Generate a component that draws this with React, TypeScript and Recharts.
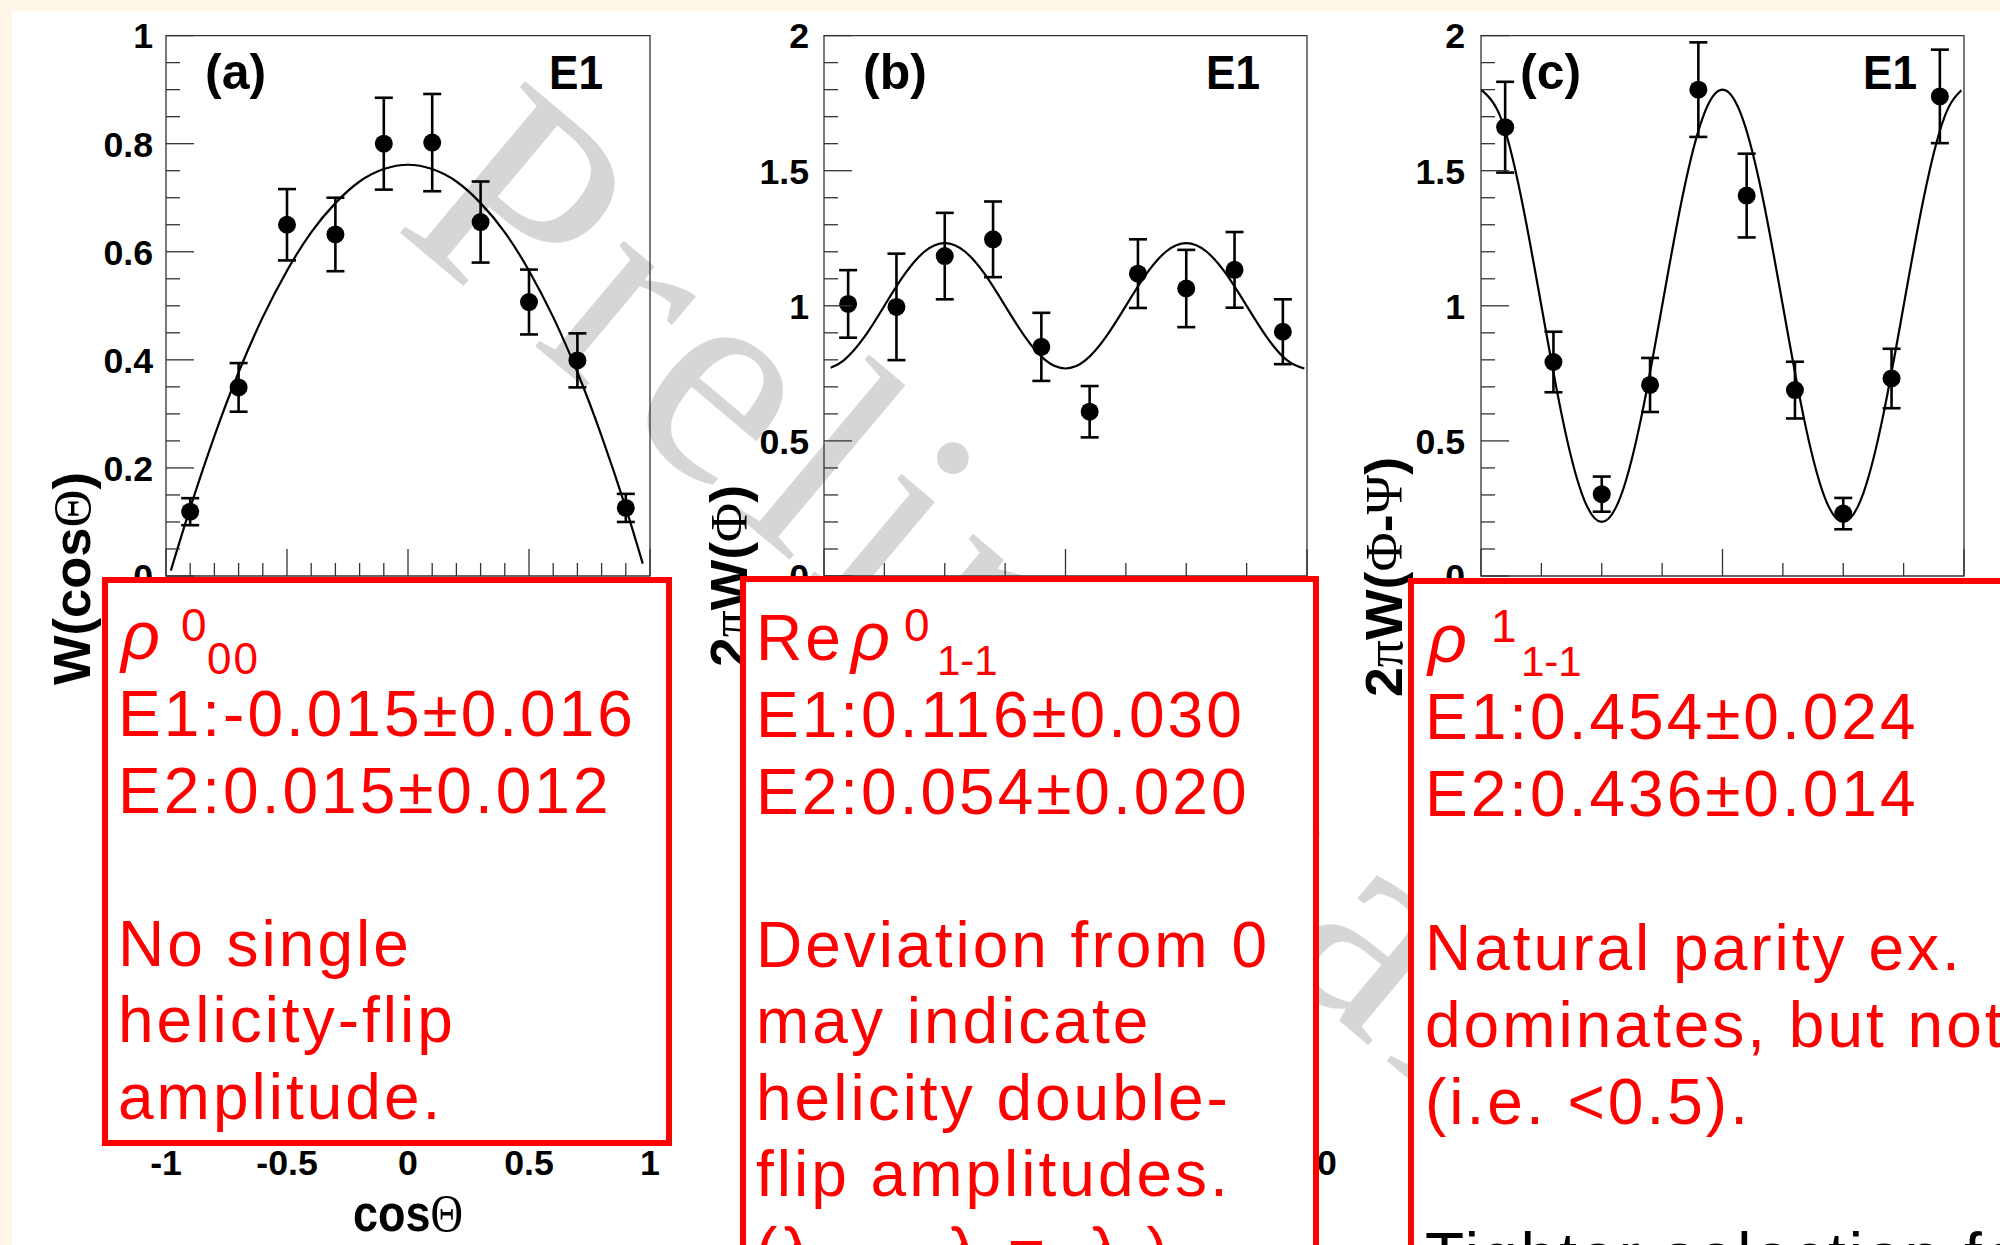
import React from 'react';
import { ComposedChart, Line, Scatter, XAxis, YAxis, ErrorBar, ReferenceArea, Label } from 'recharts';

// ---------- Panel (a): W(cosTheta) ----------
const cosBins = [-0.9, -0.7, -0.5, -0.3, -0.1, 0.1, 0.3, 0.5, 0.7, 0.9];
const wCos = [0.119, 0.349, 0.65, 0.632, 0.8, 0.802, 0.655, 0.507, 0.399, 0.126];
const wCosErr = [0.025, 0.045, 0.066, 0.068, 0.085, 0.09, 0.075, 0.06, 0.05, 0.026];
const cosFitX = [-0.98, -0.9, -0.8, -0.7, -0.6, -0.5, -0.4, -0.3, -0.2, -0.1, 0, 0.1, 0.2, 0.3, 0.4, 0.5, 0.6, 0.7, 0.8, 0.9, 0.97];
const cosFitY = [0.01, 0.126, 0.259, 0.377, 0.479, 0.565, 0.636, 0.69, 0.73, 0.753, 0.761, 0.753, 0.73, 0.69, 0.636, 0.565, 0.479, 0.377, 0.259, 0.126, 0.023];

// ---------- Panel (b): 2piW(Phi) ----------
const phiBins = [18, 54, 90, 126, 162, 198, 234, 270, 306, 342];
const wPhi = [1.007, 0.996, 1.184, 1.246, 0.848, 0.608, 1.119, 1.064, 1.133, 0.904];
const wPhiErr = [0.125, 0.197, 0.16, 0.14, 0.126, 0.095, 0.127, 0.143, 0.14, 0.12];
const phiFitX = [5, 15, 30, 45, 60, 75, 90, 105, 120, 135, 150, 165, 180, 195, 210, 225, 240, 255, 270, 285, 300, 315, 330, 345, 358];
const phiFitY = [0.771, 0.799, 0.884, 1.0, 1.116, 1.201, 1.232, 1.201, 1.116, 1.0, 0.884, 0.799, 0.768, 0.799, 0.884, 1.0, 1.116, 1.201, 1.232, 1.201, 1.116, 1.0, 0.884, 0.799, 0.768];

// ---------- Panel (c): 2piW(Phi-Psi) ----------
const psiBins = [18, 54, 90, 126, 162, 198, 234, 270, 306, 342];
const wPsi = [1.661, 0.792, 0.303, 0.707, 1.8, 1.408, 0.688, 0.231, 0.731, 1.775];
const wPsiErr = [0.168, 0.112, 0.065, 0.1, 0.175, 0.155, 0.105, 0.058, 0.11, 0.173];
const psiFitX = [0, 15, 30, 45, 60, 75, 90, 105, 120, 135, 150, 165, 180, 195, 210, 225, 240, 255, 270, 285, 300, 315, 330, 345, 358];
const psiFitY = [1.8, 1.693, 1.4, 1.0, 0.6, 0.307, 0.2, 0.307, 0.6, 1.0, 1.4, 1.693, 1.8, 1.693, 1.4, 1.0, 0.6, 0.307, 0.2, 0.307, 0.6, 1.0, 1.4, 1.693, 1.798];

// ---------- Axis ticks ----------
const cosTicks = [-1, -0.9, -0.8, -0.7, -0.6, -0.5, -0.4, -0.3, -0.2, -0.1, 0, 0.1, 0.2, 0.3, 0.4, 0.5, 0.6, 0.7, 0.8, 0.9, 1];
const cosMajor = [-1, -0.5, 0, 0.5, 1];
const wTicksA = [0, 0.05, 0.1, 0.15, 0.2, 0.25, 0.3, 0.35, 0.4, 0.45, 0.5, 0.55, 0.6, 0.65, 0.7, 0.75, 0.8, 0.85, 0.9, 0.95, 1];
const wMajorA = [0, 0.2, 0.4, 0.6, 0.8, 1];
const angTicks = [0, 45, 90, 135, 180, 225, 270, 315, 360];
const angMajor = [0, 180, 360];
const wTicksB = [0, 0.1, 0.2, 0.3, 0.4, 0.5, 0.6, 0.7, 0.8, 0.9, 1, 1.1, 1.2, 1.3, 1.4, 1.5, 1.6, 1.7, 1.8, 1.9, 2];
const wMajorB = [0, 0.5, 1, 1.5, 2];

const SANS = '"Liberation Sans", Arial, Helvetica, sans-serif';
const SERIF = '"Liberation Serif", "Times New Roman", serif';
const AXIS_COLOR = '#333333';
const RED = '#ff0000';

const TOP_Y = 35.6;
const FRAME_BOTTOM = 576;
const CHART_H = 740;
const Y_AXIS_W = 60;
const X_AXIS_H = 10;

const isIn = (list: number[], v: number) => list.some((m) => Math.abs(m - v) < 1e-9);
const zipPts = (xs: number[], ys: number[], es: number[]) => xs.map((x, i) => ({ x, y: ys[i], err: es[i] }));
const zipFit = (xs: number[], ys: number[]) => xs.map((x, i) => ({ x, y: ys[i] }));

const makeYTick = (major: number[], gap: number) => (props: any) => {
  const { x, y, payload } = props;
  const v = payload.value;
  const big = isIn(major, v);
  return (
    <g>
      <line x1={x} y1={y} x2={x + (big ? 28 : 14)} y2={y} stroke={AXIS_COLOR} strokeWidth={1.3} />
      {big ? (
        <text x={x - gap} y={y} dy="0.36em" textAnchor="end" fontFamily={SANS} fontWeight={700} fontSize={35.7} fill="#000">
          {String(v)}
        </text>
      ) : null}
    </g>
  );
};

const makeXTick = (major: number[]) => (props: any) => {
  const { x, y, payload } = props;
  const big = isIn(major, payload.value);
  return <line x1={x} y1={y} x2={x} y2={y - (big ? 27 : 13)} stroke={AXIS_COLOR} strokeWidth={1.3} />;
};

const lowerXTick = (props: any) => {
  const { x, y, payload } = props;
  return (
    <text x={x} y={y + 10} dy="0.71em" textAnchor="middle" fontFamily={SANS} fontWeight={700} fontSize={35.7} fill="#000">
      {String(payload.value)}
    </text>
  );
};

const dotShape = (p: any) => <circle cx={p.cx} cy={p.cy} r={9} fill="#000" />;

type PanelCfg = {
  left: number;
  width: number;
  plotLeft: number;
  plotRight: number;
  xDomain: [number, number];
  xTicks: number[];
  xMajor: number[];
  yDomain: [number, number];
  yTicks: number[];
  yMajor: number[];
  labelGap: number;
  tag: string;
  points: { x: number; y: number; err: number }[];
  fit: { x: number; y: number }[];
  title: React.ReactNode;
  titleX: number;
  titleTop: number;
  titleLen: number;
};

function TopPanel(c: PanelCfg) {
  const margin = {
    top: TOP_Y,
    right: c.left + c.width - c.plotRight,
    bottom: CHART_H - FRAME_BOTTOM - X_AXIS_H,
    left: c.plotLeft - c.left - Y_AXIS_W,
  };
  const titleContent = () => (
    <text
      transform={`translate(${c.titleX},${c.titleTop}) rotate(-90)`}
      textAnchor="end"
      fontFamily={SANS}
      fontWeight={700}
      fontSize={52}
      fill="#000"
      textLength={c.titleLen}
      lengthAdjust="spacingAndGlyphs"
    >
      {c.title}
    </text>
  );
  const tagContent = (p: any) => {
    const vb = p && p.viewBox && p.viewBox.width ? p.viewBox : { x: c.plotLeft - c.left, y: TOP_Y, width: c.plotRight - c.plotLeft };
    return (
      <g>
        <text x={vb.x + 39} y={vb.y + 53.4} fontFamily={SANS} fontWeight={700} fontSize={50} fill="#000">
          {c.tag}
        </text>
        <text
          x={vb.x + vb.width - 47}
          y={vb.y + 53.4}
          textAnchor="end"
          fontFamily={SANS}
          fontWeight={700}
          fontSize={49}
          fill="#000"
          textLength={54}
          lengthAdjust="spacingAndGlyphs"
        >
          E1
        </text>
      </g>
    );
  };
  return (
    <div style={{ position: 'absolute', left: c.left, top: 0 }}>
      <ComposedChart width={c.width} height={CHART_H} margin={margin}>
        <XAxis
          type="number"
          dataKey="x"
          domain={c.xDomain}
          ticks={c.xTicks}
          interval={0}
          tickSize={0}
          tickMargin={0}
          tickLine={false}
          axisLine={false}
          height={X_AXIS_H}
          tick={makeXTick(c.xMajor)}
          allowDataOverflow
        />
        <YAxis
          type="number"
          domain={c.yDomain}
          ticks={c.yTicks}
          interval={0}
          tickSize={0}
          tickMargin={0}
          tickLine={false}
          axisLine={false}
          width={Y_AXIS_W}
          tick={makeYTick(c.yMajor, c.labelGap)}
          allowDataOverflow
        >
          <Label content={titleContent} />
        </YAxis>
        <ReferenceArea
          x1={c.xDomain[0]}
          x2={c.xDomain[1]}
          y1={c.yDomain[0]}
          y2={c.yDomain[1]}
          fill="none"
          fillOpacity={0}
          stroke={AXIS_COLOR}
          strokeWidth={1.3}
          ifOverflow="visible"
        >
          <Label content={tagContent} />
        </ReferenceArea>
        <Line data={c.fit} dataKey="y" type="natural" stroke="#000" strokeWidth={2.2} dot={false} activeDot={false} isAnimationActive={false} />
        <Scatter data={c.points} dataKey="y" shape={dotShape} isAnimationActive={false}>
          <ErrorBar dataKey="err" direction="y" width={9} strokeWidth={2.6} stroke="#000" />
        </Scatter>
      </ComposedChart>
    </div>
  );
}

type LowerCfg = {
  left: number;
  width: number;
  plotLeft: number;
  plotRight: number;
  domain: [number, number];
  ticks: number[];
  title?: React.ReactNode;
};

const LOWER_BOTTOM = 1140;
const LOWER_AXIS_H = 100;

function LowerAxis(c: LowerCfg) {
  const margin = {
    top: 640,
    right: c.left + c.width - c.plotRight,
    bottom: 1245 - LOWER_BOTTOM - LOWER_AXIS_H,
    left: c.plotLeft - c.left - Y_AXIS_W,
  };
  const titleContent = (p: any) => {
    if (!c.title) return null;
    const vb = p && p.viewBox && p.viewBox.width ? p.viewBox : { x: c.plotLeft - c.left, y: LOWER_BOTTOM, width: c.plotRight - c.plotLeft };
    return (
      <text
        x={vb.x + vb.width / 2}
        y={vb.y + 91}
        textAnchor="middle"
        fontFamily={SANS}
        fontWeight={700}
        fontSize={52}
        fill="#000"
        textLength={110}
        lengthAdjust="spacingAndGlyphs"
      >
        {c.title}
      </text>
    );
  };
  return (
    <div style={{ position: 'absolute', left: c.left, top: 0 }}>
      <ComposedChart width={c.width} height={1245} margin={margin} data={c.ticks.map((x) => ({ x }))}>
        <XAxis
          type="number"
          dataKey="x"
          domain={c.domain}
          ticks={c.ticks}
          interval={0}
          tickSize={0}
          tickMargin={0}
          tickLine={false}
          axisLine={false}
          height={LOWER_AXIS_H}
          tick={lowerXTick}
          allowDataOverflow
        >
          <Label content={titleContent} />
        </XAxis>
        <YAxis type="number" domain={[0, 1]} width={Y_AXIS_W} tick={false} tickLine={false} axisLine={false} allowDataOverflow />
      </ComposedChart>
    </div>
  );
}

function Watermark() {
  return (
    <svg width={2000} height={1245} style={{ position: 'absolute', left: 0, top: 0 }}>
      <text
        x={392}
        y={226}
        transform="rotate(40 392 226)"
        fontFamily={SERIF}
        fontSize={300}
        fill="#d6d6d6"
        style={{ letterSpacing: '14px' }}
      >
        Preliminary
      </text>
    </svg>
  );
}

const boxA = ['E1:-0.015±0.016', 'E2:0.015±0.012', '', 'No single', 'helicity-flip', 'amplitude.'];
const boxB = ['E1:0.116±0.030', 'E2:0.054±0.020', '', 'Deviation from 0', 'may indicate', 'helicity double-', 'flip amplitudes.'];
const boxC = ['E1:0.454±0.024', 'E2:0.436±0.014', '', 'Natural parity ex.', 'dominates, but not', '(i.e. <0.5).'];

function Boxes() {
  const line = (x: number, y: number, s: string, key: string, fill = RED) =>
    s ? (
      <text key={key} x={x} y={y} fontFamily={SANS} fontSize={64} fill={fill} style={{ letterSpacing: '3px' }}>
        {s}
      </text>
    ) : null;
  return (
    <svg width={2000} height={1245} style={{ position: 'absolute', left: 0, top: 0 }}>
      <rect x={105} y={580} width={564} height={563} fill="#fff" stroke={RED} strokeWidth={6} />
      <rect x={743} y={579} width={573} height={800} fill="#fff" stroke={RED} strokeWidth={6} />
      <rect x={1411} y={581} width={700} height={800} fill="#fff" stroke={RED} strokeWidth={6} />

      {/* box a */}
      <text x={121} y={659} fontFamily={SANS} fontStyle="italic" fontSize={68} fill={RED}>ρ</text>
      <text x={181} y={641} fontFamily={SANS} fontSize={46} fill={RED}>0</text>
      <text x={207} y={674} fontFamily={SANS} fontSize={44} fill={RED} style={{ letterSpacing: '2px' }}>00</text>
      {boxA.map((s, i) => line(118, 736 + i * 76.6, s, 'a' + i))}

      {/* box b */}
      <text x={756} y={660} fontFamily={SANS} fontSize={64} fill={RED} style={{ letterSpacing: '3px' }}>Re</text>
      <text x={851} y={660} fontFamily={SANS} fontStyle="italic" fontSize={68} fill={RED}>ρ</text>
      <text x={904} y={641} fontFamily={SANS} fontSize={46} fill={RED}>0</text>
      <text x={937} y={675} fontFamily={SANS} fontSize={42} fill={RED}>1-1</text>
      {boxB.map((s, i) => line(756, 737 + i * 76.5, s, 'b' + i))}
      <text x={756} y={1273} fontFamily={SANS} fontSize={64} fill={RED} style={{ letterSpacing: '3px' }}>
        (λ<tspan fontSize={40} dy={12}>γ</tspan>
        <tspan dy={-12}> → λ</tspan>
        <tspan fontSize={40} dy={12}>ρ</tspan>
        <tspan dy={-12}>=−λ</tspan>
        <tspan fontSize={40} dy={12}>γ</tspan>
        <tspan dy={-12}>)</tspan>
      </text>

      {/* box c */}
      <text x={1428} y={662} fontFamily={SANS} fontStyle="italic" fontSize={68} fill={RED}>ρ</text>
      <text x={1491} y={642} fontFamily={SANS} fontSize={46} fill={RED}>1</text>
      <text x={1521} y={676} fontFamily={SANS} fontSize={42} fill={RED}>1-1</text>
      {boxC.map((s, i) => line(1425, 739 + i * 77, s, 'c' + i))}
      {line(1425, 1278, 'Tighter selection for', 'c-black', '#000')}
    </svg>
  );
}

const panelA: PanelCfg = {
  left: 0,
  width: 680,
  plotLeft: 166,
  plotRight: 650,
  xDomain: [-1, 1],
  xTicks: cosTicks,
  xMajor: cosMajor,
  yDomain: [0, 1],
  yTicks: wTicksA,
  yMajor: wMajorA,
  labelGap: 13,
  tag: '(a)',
  points: zipPts(cosBins, wCos, wCosErr),
  fit: zipFit(cosFitX, cosFitY),
  title: (
    <>
      W(cos<tspan fontFamily={SERIF} fontWeight={400}>Θ</tspan>)
    </>
  ),
  titleX: 90,
  titleTop: 472,
  titleLen: 213,
};

const panelB: PanelCfg = {
  left: 680,
  width: 680,
  plotLeft: 824,
  plotRight: 1307,
  xDomain: [0, 360],
  xTicks: angTicks,
  xMajor: angMajor,
  yDomain: [0, 2],
  yTicks: wTicksB,
  yMajor: wMajorB,
  labelGap: 15,
  tag: '(b)',
  points: zipPts(phiBins, wPhi, wPhiErr),
  fit: zipFit(phiFitX, phiFitY),
  title: (
    <>
      2<tspan fontFamily={SERIF} fontWeight={400}>π</tspan>W(<tspan fontFamily={SERIF} fontWeight={400}>Φ</tspan>)
    </>
  ),
  titleX: 67,
  titleTop: 485,
  titleLen: 182,
};

const panelC: PanelCfg = {
  left: 1360,
  width: 640,
  plotLeft: 1481,
  plotRight: 1964,
  xDomain: [0, 360],
  xTicks: angTicks,
  xMajor: angMajor,
  yDomain: [0, 2],
  yTicks: wTicksB,
  yMajor: wMajorB,
  labelGap: 16,
  tag: '(c)',
  points: zipPts(psiBins, wPsi, wPsiErr),
  fit: zipFit(psiFitX, psiFitY),
  title: (
    <>
      2<tspan fontFamily={SERIF} fontWeight={400}>π</tspan>W(<tspan fontFamily={SERIF} fontWeight={400}>Φ</tspan>-
      <tspan fontFamily={SERIF} fontWeight={400}>Ψ</tspan>)
    </>
  ),
  titleX: 42,
  titleTop: 457,
  titleLen: 240,
};

export default function App() {
  return (
    <div style={{ position: 'absolute', left: 0, top: 0, width: 2000, height: 1245, overflow: 'hidden', background: '#FEF6E6' }}>
      <div style={{ position: 'absolute', left: 12, top: 11, width: 1988, height: 1234, background: '#ffffff' }} />
      <Watermark />
      <TopPanel {...panelA} />
      <TopPanel {...panelB} />
      <TopPanel {...panelC} />
      <LowerAxis
        left={0}
        width={680}
        plotLeft={166}
        plotRight={650}
        domain={[-1, 1]}
        ticks={cosMajor}
        title={
          <>
            cos<tspan fontFamily={SERIF} fontWeight={400}>Θ</tspan>
          </>
        }
      />
      <LowerAxis left={680} width={680} plotLeft={824} plotRight={1307} domain={[0, 360]} ticks={angMajor} />
      <Boxes />
    </div>
  );
}
